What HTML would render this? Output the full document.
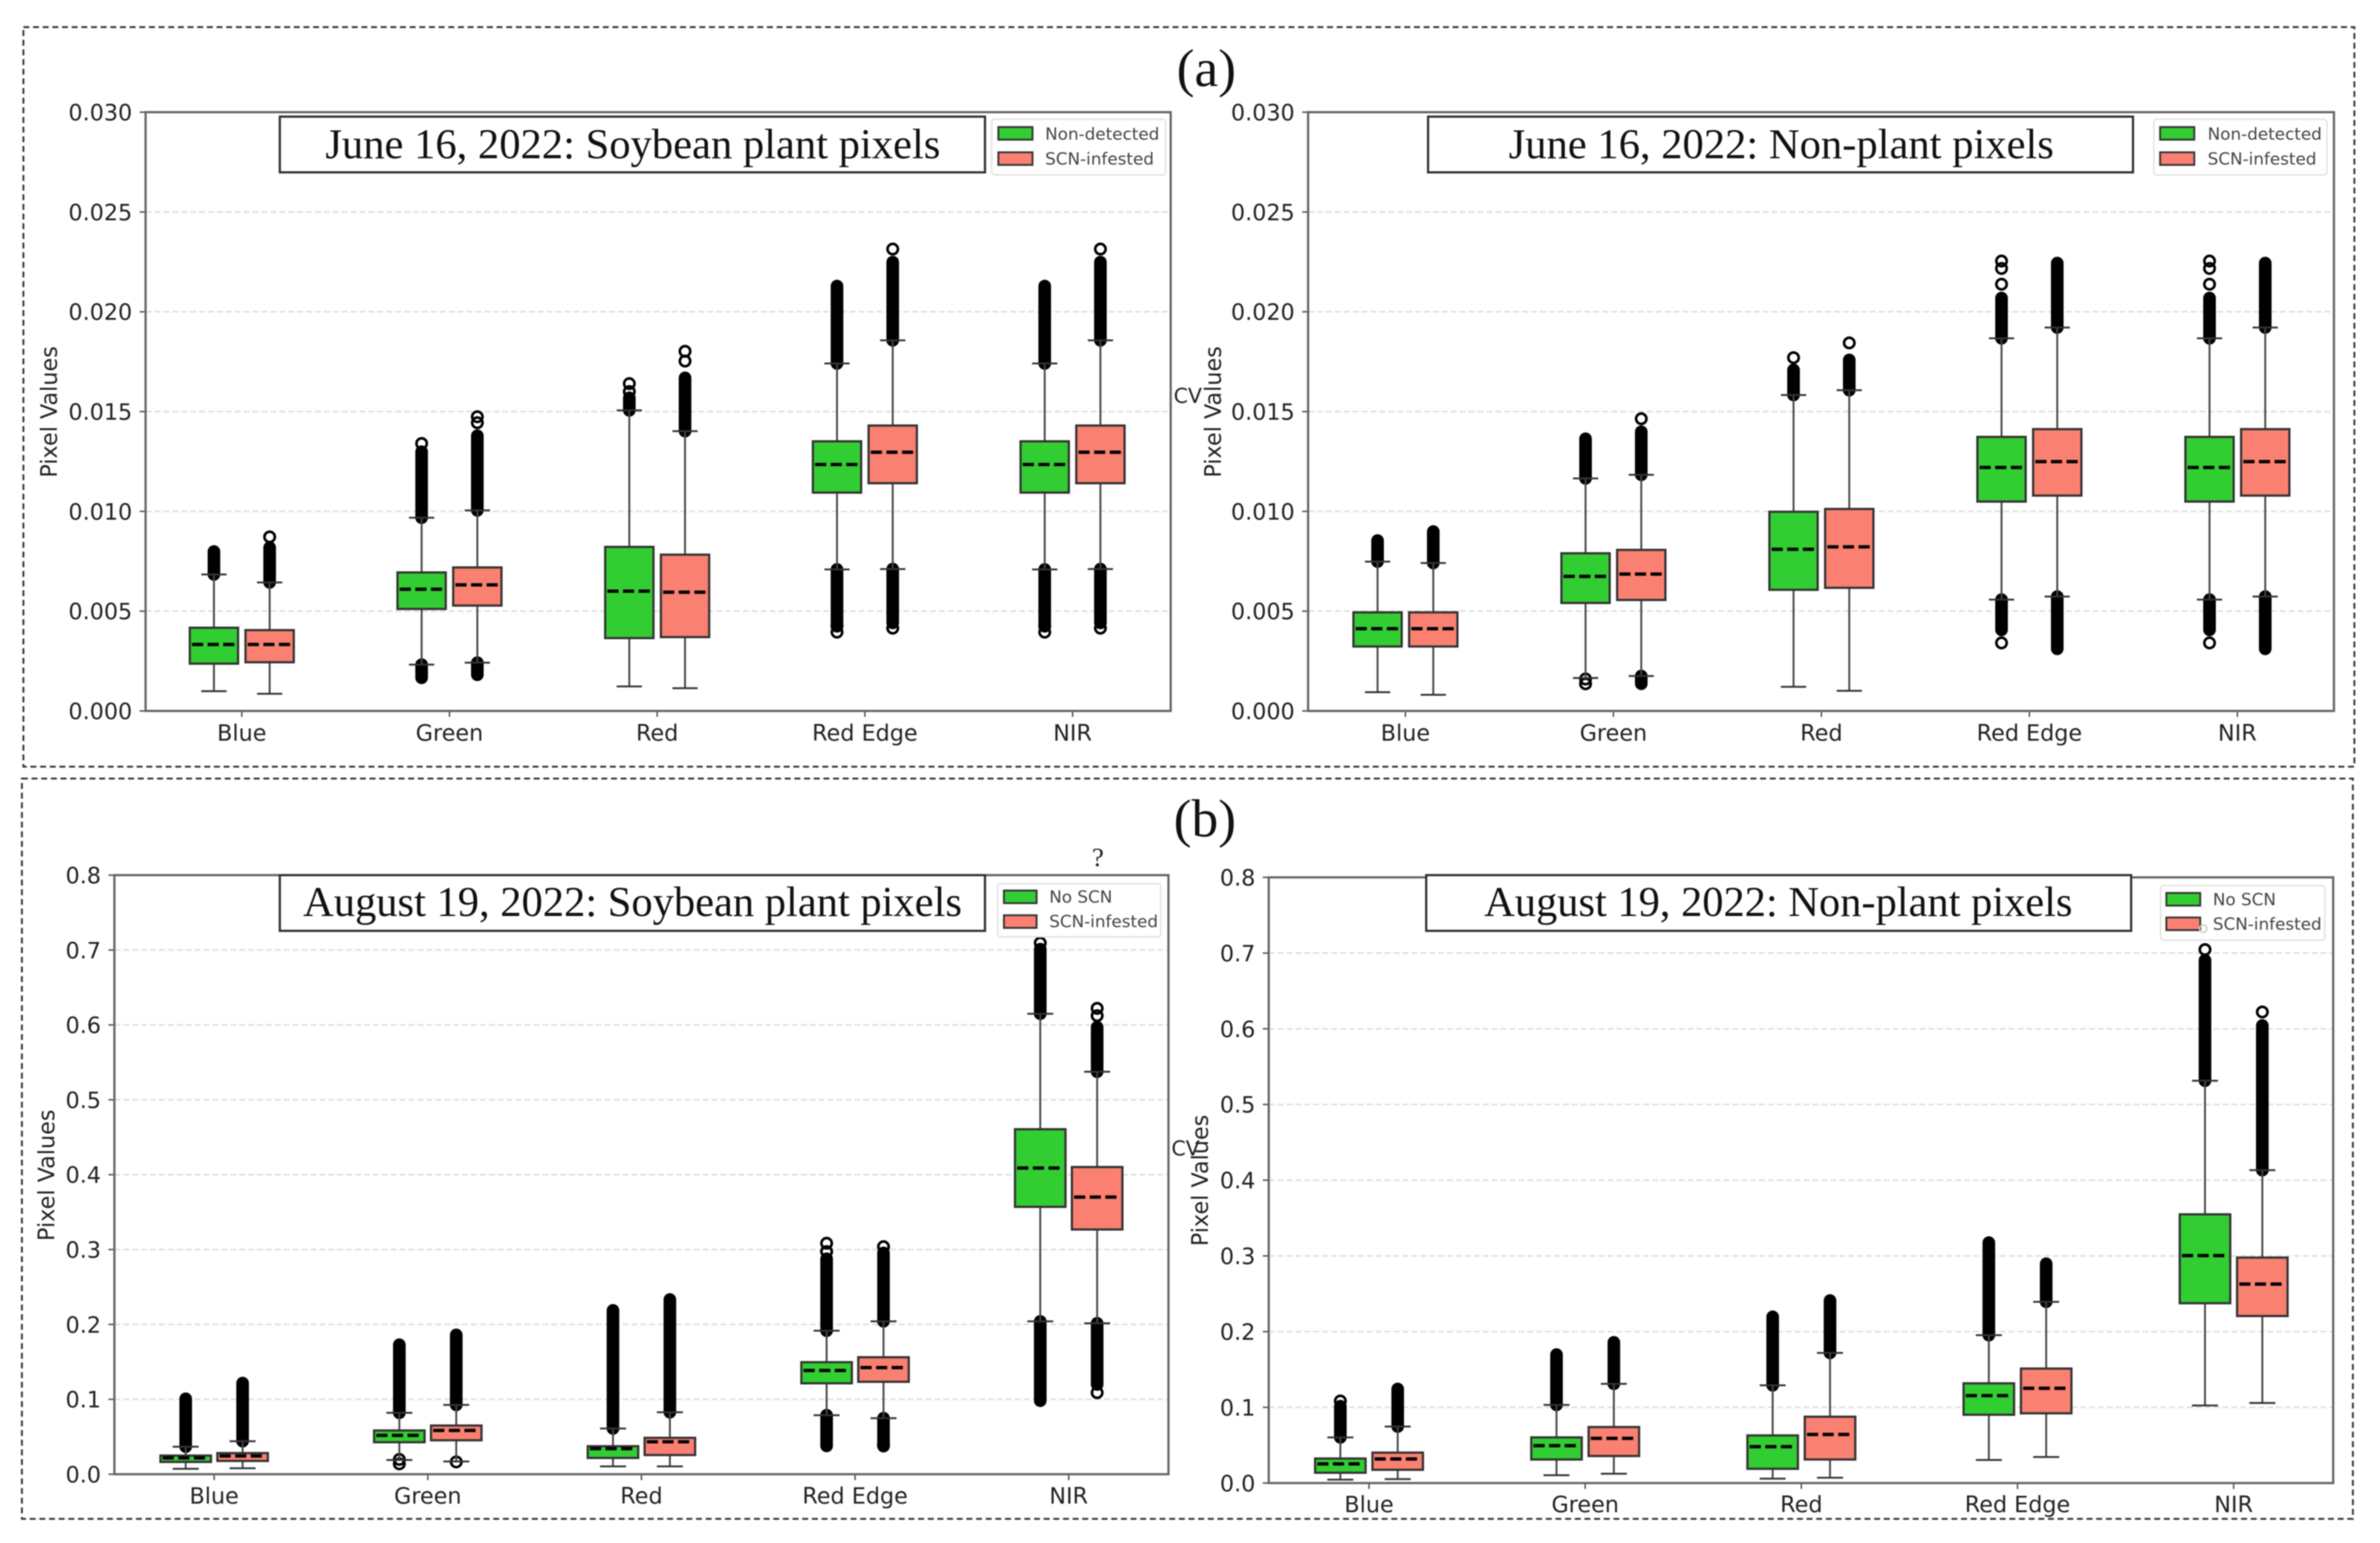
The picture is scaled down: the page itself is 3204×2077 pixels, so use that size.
<!DOCTYPE html>
<html lang="en">
<head>
<meta charset="utf-8">
<title>SCN box plots</title>
<style>
html,body{margin:0;padding:0;background:#fff;}
svg{display:block;filter:blur(0.9px);}
.tick{font-family:"DejaVu Sans",sans-serif;font-size:30px;fill:#222;}
.title{font-family:"Liberation Serif",serif;font-size:57px;fill:#111;}
.leg{font-family:"DejaVu Sans",sans-serif;font-size:22.6px;fill:#444;}
.sub{font-family:"Liberation Serif",serif;font-size:72px;fill:#111;}
</style>
</head>
<body>
<svg id="fig" xmlns="http://www.w3.org/2000/svg" width="3204" height="2077" viewBox="0 0 3204 2077">
<rect width="3204" height="2077" fill="#fff"/>
<rect x="31.5" y="36.5" width="3138" height="995.5" fill="none" stroke="#333" stroke-width="2.5" stroke-dasharray="8 5"/>
<rect x="29.5" y="1048" width="3138" height="996.5" fill="none" stroke="#333" stroke-width="2.5" stroke-dasharray="8 5"/>
<text class="sub" x="1624" y="116" text-anchor="middle">(a)</text>
<text class="sub" x="1622" y="1126" text-anchor="middle">(b)</text>
<g id="marks"></g>

<g>
<rect x="376.7" y="157" width="949.3" height="75" fill="#fff" stroke="#333" stroke-width="3"/>
<text class="title" x="438" y="213" textLength="828" lengthAdjust="spacingAndGlyphs">June 16, 2022: Soybean plant pixels</text>
</g>
<g>
<rect x="1922.5" y="157" width="949" height="75" fill="#fff" stroke="#333" stroke-width="3"/>
<text class="title" x="2031" y="213" textLength="734" lengthAdjust="spacingAndGlyphs">June 16, 2022: Non-plant pixels</text>
</g>
<g>
<rect x="376.7" y="1178" width="949.3" height="75" fill="#fff" stroke="#333" stroke-width="3"/>
<text class="title" x="408" y="1233" textLength="887" lengthAdjust="spacingAndGlyphs">August 19, 2022: Soybean plant pixels</text>
</g>
<g>
<rect x="1920" y="1178" width="949" height="75" fill="#fff" stroke="#333" stroke-width="3"/>
<text class="title" x="1998" y="1233" textLength="792" lengthAdjust="spacingAndGlyphs">August 19, 2022: Non-plant pixels</text>
</g>

<g>
<rect x="1335" y="160.5" width="234" height="75" rx="4" fill="#fff" stroke="#e2e2e2" stroke-width="2"/>
<rect x="1344" y="171" width="46" height="17" fill="#32cd32" stroke="#333" stroke-width="2.5"/>
<rect x="1344" y="205" width="46" height="17" fill="#fa8072" stroke="#333" stroke-width="2.5"/>
<text class="leg" x="1407" y="188">Non-detected</text>
<text class="leg" x="1407" y="221.5">SCN-infested</text>
</g>
<g>
<rect x="2899.6" y="160.5" width="233" height="75" rx="4" fill="#fff" stroke="#e2e2e2" stroke-width="2"/>
<rect x="2908" y="171" width="46" height="17" fill="#32cd32" stroke="#333" stroke-width="2.5"/>
<rect x="2908" y="205" width="46" height="17" fill="#fa8072" stroke="#333" stroke-width="2.5"/>
<text class="leg" x="2972" y="188">Non-detected</text>
<text class="leg" x="2972" y="221.5">SCN-infested</text>
</g>
<g>
<rect x="1343" y="1189.5" width="219.6" height="71.5" rx="4" fill="#fff" stroke="#e2e2e2" stroke-width="2"/>
<rect x="1351.5" y="1198.7" width="44" height="17" fill="#32cd32" stroke="#333" stroke-width="2.5"/>
<rect x="1351.5" y="1232" width="44" height="17" fill="#fa8072" stroke="#333" stroke-width="2.5"/>
<text class="leg" x="1412.5" y="1215">No SCN</text>
<text class="leg" x="1412.5" y="1248">SCN-infested</text>
</g>
<g>
<rect x="2908.7" y="1192" width="221" height="73.5" rx="4" fill="#fff" stroke="#e2e2e2" stroke-width="2"/>
<rect x="2916.4" y="1202" width="45.6" height="17" fill="#32cd32" stroke="#333" stroke-width="2.5"/>
<rect x="2916.4" y="1235" width="45.6" height="17" fill="#fa8072" stroke="#333" stroke-width="2.5"/>
<text class="leg" x="2979" y="1218.6">No SCN</text>
<text class="leg" x="2979" y="1251.6">SCN-infested</text>
<circle cx="2966" cy="1250" r="5" fill="none" stroke="#ccc" stroke-width="2"/>
</g>

<text x="1580" y="542" font-family="'DejaVu Sans',sans-serif" font-size="27.5" fill="#222">CV</text>
<text x="1577" y="1555" font-family="'DejaVu Sans',sans-serif" font-size="27.5" fill="#222">CV</text>
<text x="1478" y="1166" text-anchor="middle" font-family="'Liberation Serif',serif" font-size="36" fill="#222">?</text>
</svg>

<script>
// Categories and tick labels
const bands = ['Blue', 'Green', 'Red', 'Red Edge', 'NIR'];
const juneTicks = [0, 0.005, 0.01, 0.015, 0.02, 0.025, 0.03];
const juneTickLabels = ['0.000', '0.005', '0.010', '0.015', '0.020', '0.025', '0.030'];
const augustTicks = [0, 0.1, 0.2, 0.3, 0.4, 0.5, 0.6, 0.7, 0.8];
const augustTickLabels = ['0.0', '0.1', '0.2', '0.3', '0.4', '0.5', '0.6', '0.7', '0.8'];

// Box stats per band: [whisker low, q1, median, q3, whisker high]
const junePlantGreenBoxes = [
  [0.00099, 0.00237, 0.00333, 0.00417, 0.00684],
  [0.00232, 0.00511, 0.0061, 0.00694, 0.00968],
  [0.00123, 0.00365, 0.006, 0.00822, 0.01506],
  [0.00709, 0.01094, 0.01235, 0.01351, 0.01741],
  [0.00709, 0.01094, 0.01235, 0.01351, 0.01741]
];
const junePlantSalmonBoxes = [
  [0.00086, 0.00244, 0.00333, 0.00405, 0.00644],
  [0.00242, 0.00528, 0.00632, 0.00719, 0.01005],
  [0.00114, 0.0037, 0.00595, 0.00783, 0.01402],
  [0.00711, 0.01141, 0.01296, 0.0143, 0.01857],
  [0.00711, 0.01141, 0.01296, 0.0143, 0.01857]
];
// Outlier stats per band: [solid low end or null, solid high end or null, loose points]
const junePlantGreenFliers = [
  [null, 0.0081, []],
  [0.00155, 0.0131, [0.0134]],
  [null, 0.0158, [0.016, 0.0164]],
  [0.0042, 0.0214, [0.00395, 0.00425]],
  [0.0042, 0.0214, [0.00395, 0.00425]]
];
const junePlantSalmonFliers = [
  [null, 0.0083, [0.00872]],
  [0.0017, 0.0139, [0.01444, 0.01474]],
  [null, 0.0168, [0.01753, 0.01802]],
  [0.0043, 0.0226, [0.00415, 0.02314]],
  [0.0043, 0.0226, [0.00415, 0.02314]]
];

const juneSoilGreenBoxes = [
  [0.00094, 0.00323, 0.00412, 0.00494, 0.00748],
  [0.00165, 0.00541, 0.00674, 0.0079, 0.01165],
  [0.00121, 0.00607, 0.0081, 0.00998, 0.01583],
  [0.00558, 0.01049, 0.0122, 0.01373, 0.01867],
  [0.00558, 0.01049, 0.0122, 0.01373, 0.01867]
];
const juneSoilSalmonBoxes = [
  [0.00081, 0.00323, 0.00412, 0.00494, 0.00741],
  [0.00175, 0.00556, 0.00686, 0.00807, 0.01183],
  [0.00101, 0.00617, 0.00822, 0.01012, 0.01607],
  [0.00573, 0.01079, 0.01249, 0.01412, 0.01921],
  [0.00573, 0.01079, 0.01249, 0.01412, 0.01921]
];
const juneSoilGreenFliers = [
  [null, 0.00865, []],
  [null, 0.01375, [0.0016, 0.00136]],
  [null, 0.0172, [0.0177]],
  [0.00395, 0.0208, [0.00341, 0.02138, 0.02217, 0.02254]],
  [0.00395, 0.0208, [0.00341, 0.02138, 0.02217, 0.02254]]
];
const juneSoilSalmonFliers = [
  [null, 0.0091, []],
  [0.00125, 0.0141, [0.01464]],
  [null, 0.0177, [0.01844]],
  [0.003, 0.02255, []],
  [0.003, 0.02255, []]
];

const augustPlantGreenBoxes = [
  [0.0072, 0.0164, 0.0217, 0.0249, 0.0367],
  [0.019, 0.0427, 0.0518, 0.0584, 0.082],
  [0.0105, 0.0217, 0.0341, 0.0374, 0.061],
  [0.0788, 0.1214, 0.1385, 0.1496, 0.1916],
  [0.2041, 0.357, 0.4089, 0.4607, 0.6149]
];
const augustPlantSalmonBoxes = [
  [0.0079, 0.0177, 0.0243, 0.0282, 0.044],
  [0.017, 0.0453, 0.0584, 0.065, 0.0925],
  [0.0105, 0.0256, 0.0433, 0.0486, 0.0827],
  [0.0748, 0.1234, 0.1424, 0.1562, 0.2041],
  [0.2015, 0.3268, 0.3701, 0.4102, 0.5375]
];
const augustPlantGreenFliers = [
  [null, 0.1037, []],
  [null, 0.1759, [0.0197, 0.0138]],
  [null, 0.2218, []],
  [0.0348, 0.2907, [0.2973, 0.3084]],
  [0.0952, 0.7042, [0.7094]]
];
const augustPlantSalmonFliers = [
  [null, 0.1247, []],
  [null, 0.189, [0.0164]],
  [null, 0.2363, []],
  [0.0345, 0.2985, [0.3038, 0.0395]],
  [0.1168, 0.6, [0.1089, 0.6123, 0.6221]]
];

const augustSoilGreenBoxes = [
  [0.0045, 0.0136, 0.0253, 0.0324, 0.0603],
  [0.0104, 0.0311, 0.0493, 0.0603, 0.1032],
  [0.0058, 0.0188, 0.048, 0.0629, 0.1291],
  [0.0305, 0.0902, 0.1155, 0.1317, 0.1953],
  [0.1025, 0.2375, 0.3004, 0.3549, 0.5314]
];
const augustSoilSalmonBoxes = [
  [0.0052, 0.0175, 0.0318, 0.0402, 0.0746],
  [0.0123, 0.0357, 0.059, 0.074, 0.1311],
  [0.0071, 0.0311, 0.0642, 0.0876, 0.1719],
  [0.0344, 0.0921, 0.1252, 0.1512, 0.2394],
  [0.1058, 0.2206, 0.2628, 0.2978, 0.4133]
];
const augustSoilGreenFliers = [
  [null, 0.1045, [0.1084]],
  [null, 0.1726, []],
  [null, 0.2225, []],
  [null, 0.3205, []],
  [null, 0.6935, [0.7046]]
];
const augustSoilSalmonFliers = [
  [null, 0.1272, []],
  [null, 0.1888, []],
  [null, 0.244, []],
  [null, 0.2926, []],
  [null, 0.6073, [0.6222]]
];

const SVGNS = 'http://www.w3.org/2000/svg';
const GREEN = '#32cd32';
const SALMON = '#fa8072';
const FLIER_R = 8.5;
const TOP_INSET = 3;
const marksRoot = document.getElementById('marks');

function mk(tag, parent, attrs, text) {
  const el = document.createElementNS(SVGNS, tag);
  for (const k in attrs) el.setAttribute(k, attrs[k]);
  if (text !== undefined) el.textContent = text;
  parent.appendChild(el);
  return el;
}

function drawBox(g, cx, stats, fliers, yOf, layout, fill) {
  const [wl, q1, med, q3, wh] = stats;
  const [lowEnd, highEnd, loose] = fliers;
  const halfW = layout.boxW / 2;
  const halfC = layout.capW / 2;

  if (highEnd !== null) {
    const highBand = mk('line', g, {x1: cx, x2: cx, y1: yOf(wh), y2: yOf(highEnd) + TOP_INSET, stroke: '#000', 'stroke-width': FLIER_R * 2, 'stroke-linecap': 'round'});
    
    
  }
  if (lowEnd !== null) {
    const lowBand = mk('line', g, {x1: cx, x2: cx, y1: yOf(wl), y2: yOf(lowEnd) - TOP_INSET, stroke: '#000', 'stroke-width': FLIER_R * 2, 'stroke-linecap': 'round'});
    
    
  }
  loose.forEach(function (v) {
    const pt = mk('circle', g, {cx: cx, cy: yOf(v), r: 7, fill: 'none', stroke: '#000', 'stroke-width': 3.5});
    
    
  });

  const whisker = mk('line', g, {x1: cx, x2: cx, y1: yOf(wl), y2: yOf(wh), stroke: '#444', 'stroke-width': 2.5});
  
  
  [wl, wh].forEach(function (v) {
    const cap = mk('line', g, {x1: cx - halfC, x2: cx + halfC, y1: yOf(v), y2: yOf(v), stroke: '#333', 'stroke-width': 2.5});
    
    
  });

  const rect = mk('rect', g, {x: cx - halfW, y: yOf(q3), width: layout.boxW, height: yOf(q1) - yOf(q3), fill: fill, stroke: '#333', 'stroke-width': 3});
  
  

  const median = mk('line', g, {x1: cx - halfW + 3, x2: cx + halfW - 3, y1: yOf(med), y2: yOf(med), stroke: '#000', 'stroke-width': 4.5, 'stroke-dasharray': '15 6'});
  
  
}

function drawPanel(p) {
  const root = mk('g', marksRoot, {});
  
  
  const yOf = function (v) { return p.bottom - (v / p.yMax) * (p.bottom - p.top); };
  const xOf = function (i) { return p.firstX + i * p.stepX; };

  const plotBg = mk('rect', root, {x: p.left, y: p.top, width: p.right - p.left, height: p.bottom - p.top, fill: '#fff'});
  
  

  p.ticks.forEach(function (v, i) {
    const yy = yOf(v);
    if (i > 0 && i < p.ticks.length - 1) {
      const grid = mk('line', root, {x1: p.left, x2: p.right, y1: yy, y2: yy, stroke: '#dcdcdc', 'stroke-width': 2, 'stroke-dasharray': '8 4'});
      
      
    }
    const tick = mk('line', root, {x1: p.left - 8, x2: p.left, y1: yy, y2: yy, stroke: '#555', 'stroke-width': 2});
    
    
    const label = mk('text', root, {x: p.left - 18, y: yy + 11, 'text-anchor': 'end', class: 'tick'}, p.tickLabels[i]);
    
    
  });

  bands.forEach(function (name, i) {
    const cx = xOf(i);
    const group = mk('g', root, {});
    
    
    drawBox(group, cx - p.offset, p.greenBoxes[i], p.greenFliers[i], yOf, p, GREEN);
    drawBox(group, cx + p.offset, p.salmonBoxes[i], p.salmonFliers[i], yOf, p, SALMON);
    const tick = mk('line', root, {x1: cx, x2: cx, y1: p.bottom, y2: p.bottom + 8, stroke: '#555', 'stroke-width': 2});
    
    
    const label = mk('text', root, {x: cx, y: p.xLabelY, 'text-anchor': 'middle', class: 'tick'}, name);
    
    
  });

  const frame = mk('rect', root, {x: p.left, y: p.top, width: p.right - p.left, height: p.bottom - p.top, fill: 'none', stroke: '#666', 'stroke-width': 3});
  
  

  const yTitle = mk('text', root, {x: 0, y: 0, 'text-anchor': 'middle', class: 'tick', transform: 'translate(' + (p.yTitleX + 10) + ' ' + p.yTitleY + ') rotate(-90)'}, 'Pixel Values');
  
  
}

const panels = [
  {name: 'chart-june-plant', left: 196, right: 1576, top: 151, bottom: 957, yMax: 0.03,
   ticks: juneTicks, tickLabels: juneTickLabels, firstX: 325.5, stepX: 279.6, offset: 37.5, boxW: 65, capW: 34,
   xLabelY: 997, yTitleX: 66.6, yTitleY: 554.5,
   greenBoxes: junePlantGreenBoxes, salmonBoxes: junePlantSalmonBoxes, greenFliers: junePlantGreenFliers, salmonFliers: junePlantSalmonFliers},
  {name: 'chart-june-non-plant', left: 1761, right: 3142, top: 151, bottom: 957, yMax: 0.03,
   ticks: juneTicks, tickLabels: juneTickLabels, firstX: 1892, stepX: 280, offset: 37.5, boxW: 65, capW: 34,
   xLabelY: 997, yTitleX: 1633.5, yTitleY: 554.5,
   greenBoxes: juneSoilGreenBoxes, salmonBoxes: juneSoilSalmonBoxes, greenFliers: juneSoilGreenFliers, salmonFliers: juneSoilSalmonFliers},
  {name: 'chart-august-plant', left: 154, right: 1573, top: 1178, bottom: 1984.4, yMax: 0.8,
   ticks: augustTicks, tickLabels: augustTickLabels, firstX: 288.3, stepX: 287.6, offset: 38.3, boxW: 68, capW: 35,
   xLabelY: 2024, yTitleX: 63, yTitleY: 1582,
   greenBoxes: augustPlantGreenBoxes, salmonBoxes: augustPlantSalmonBoxes, greenFliers: augustPlantGreenFliers, salmonFliers: augustPlantSalmonFliers},
  {name: 'chart-august-non-plant', left: 1708, right: 3141, top: 1181, bottom: 1996.3, yMax: 0.8,
   ticks: augustTicks, tickLabels: augustTickLabels, firstX: 1843, stepX: 291, offset: 38.6, boxW: 68, capW: 35,
   xLabelY: 2035.5, yTitleX: 1616, yTitleY: 1589,
   greenBoxes: augustSoilGreenBoxes, salmonBoxes: augustSoilSalmonBoxes, greenFliers: augustSoilGreenFliers, salmonFliers: augustSoilSalmonFliers}
];
panels.forEach(drawPanel);
</script>
</body>
</html>
